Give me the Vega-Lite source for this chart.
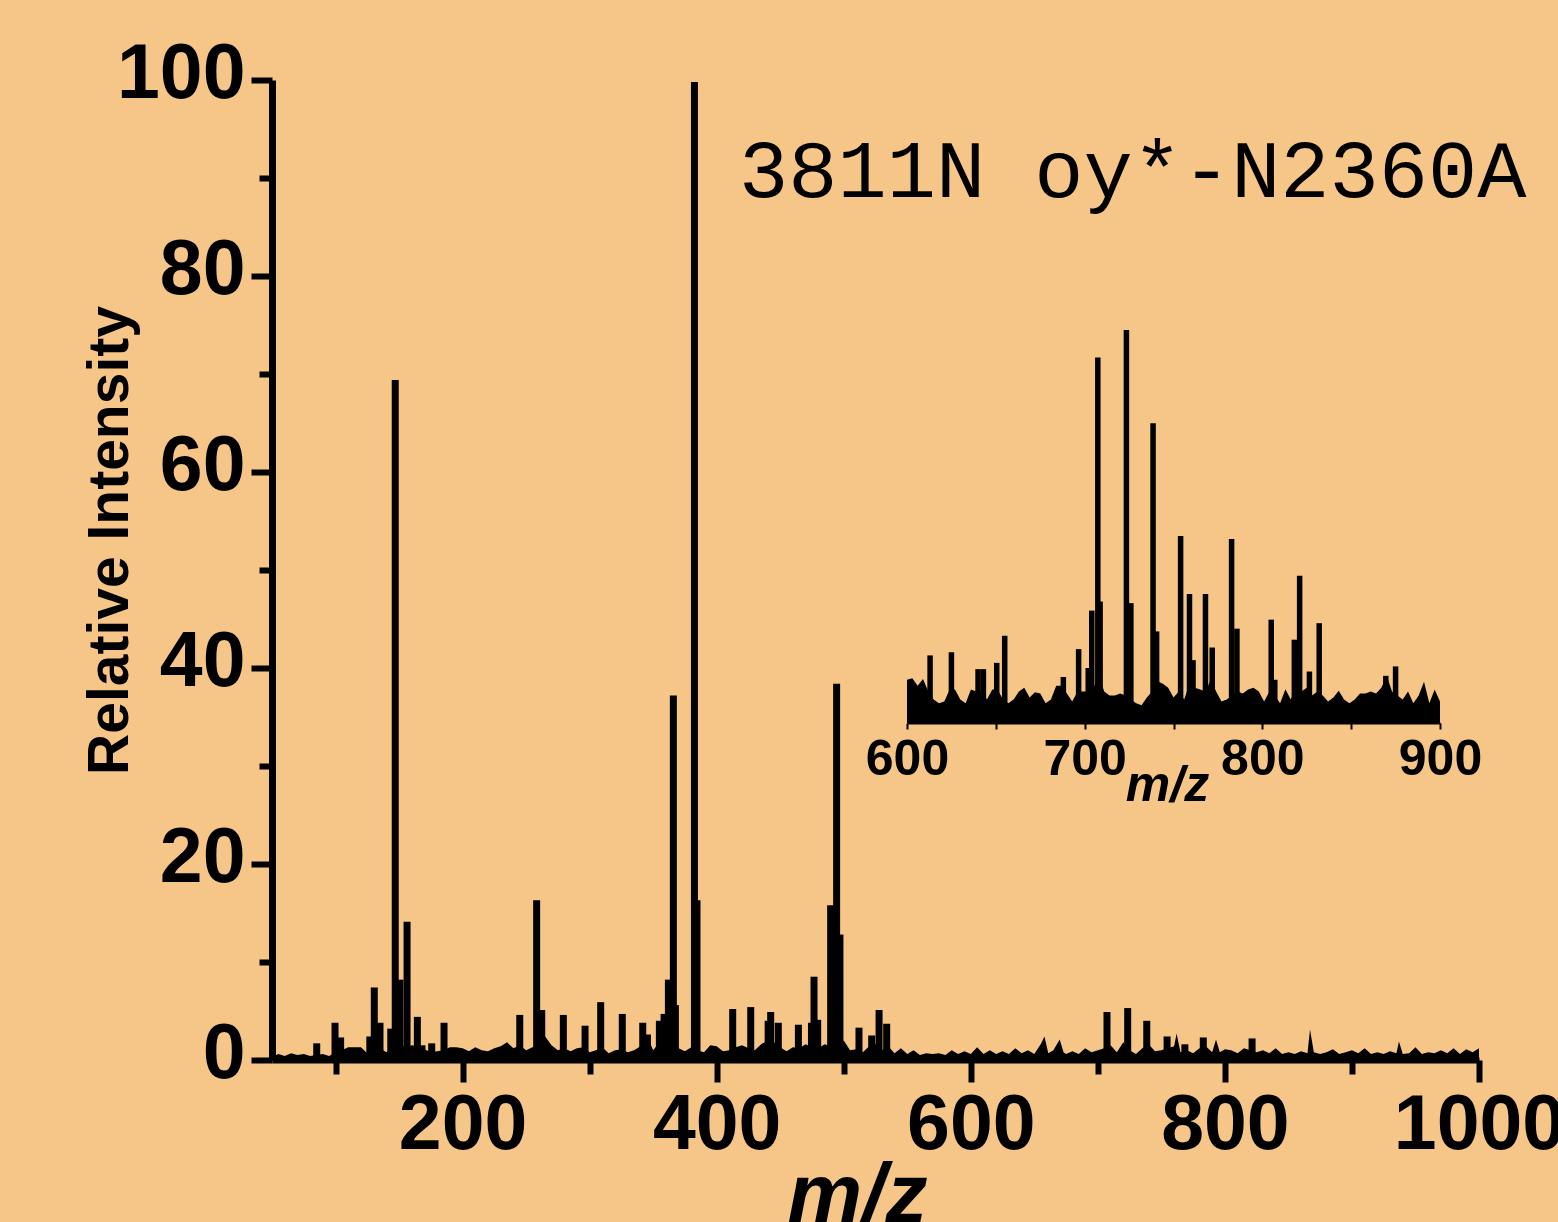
{
  "$schema": "https://vega.github.io/schema/vega-lite/v6.json",
  "width": 1207,
  "height": 980,
  "autosize": {"type": "none"},
  "padding": {"left": 272, "top": 80, "right": 79, "bottom": 162},
  "background": "#F5C687",
  "config": {"view": {"stroke": null}, "axis": {"grid": false}},
  "datasets": {
    "noise": [
      {"mz":50,"i":0.3},{"mz":55,"i":0.6},{"mz":60,"i":0.4},{"mz":65,"i":0.7},{"mz":70,"i":0.5},{"mz":75,"i":0.6},{"mz":80,"i":0.4},{"mz":85,"i":0.5},{"mz":90,"i":0.6},{"mz":95,"i":0.4},
      {"mz":100,"i":0.8},{"mz":105,"i":1.0},{"mz":110,"i":1.3},{"mz":115,"i":1.3},{"mz":120,"i":1.3},{"mz":125,"i":0.7},{"mz":130,"i":1.0},{"mz":135,"i":1.2},{"mz":140,"i":0.8},{"mz":145,"i":1.5},
      {"mz":150,"i":1.8},{"mz":155,"i":1.2},{"mz":160,"i":1.5},{"mz":165,"i":1.4},{"mz":170,"i":1.1},{"mz":175,"i":0.8},{"mz":180,"i":0.9},{"mz":185,"i":1.0},{"mz":190,"i":1.3},{"mz":195,"i":1.3},
      {"mz":200,"i":1.2},{"mz":205,"i":0.9},{"mz":210,"i":1.3},{"mz":215,"i":1.0},{"mz":220,"i":0.9},{"mz":225,"i":1.2},{"mz":230,"i":1.4},{"mz":235,"i":1.8},{"mz":240,"i":1.2},{"mz":245,"i":1.5},
      {"mz":250,"i":1.0},{"mz":255,"i":1.3},{"mz":260,"i":1.6},{"mz":265,"i":2.4},{"mz":270,"i":1.5},{"mz":275,"i":1.0},{"mz":280,"i":1.2},{"mz":285,"i":0.9},{"mz":290,"i":1.2},{"mz":295,"i":1.3},
      {"mz":300,"i":0.8},{"mz":305,"i":1.0},{"mz":310,"i":1.3},{"mz":315,"i":0.7},{"mz":320,"i":1.0},{"mz":325,"i":1.1},{"mz":330,"i":0.8},{"mz":335,"i":1.0},{"mz":340,"i":1.4},{"mz":345,"i":2.5},
      {"mz":350,"i":1.0},{"mz":355,"i":1.8},{"mz":360,"i":1.6},{"mz":365,"i":2.0},{"mz":370,"i":1.2},{"mz":375,"i":0.9},{"mz":380,"i":1.3},{"mz":385,"i":1.0},{"mz":390,"i":0.8},{"mz":395,"i":1.5},
      {"mz":400,"i":1.4},{"mz":405,"i":0.9},{"mz":410,"i":1.0},{"mz":415,"i":1.3},{"mz":420,"i":1.5},{"mz":425,"i":1.2},{"mz":430,"i":1.0},{"mz":435,"i":1.6},{"mz":440,"i":2.0},{"mz":445,"i":1.8},
      {"mz":450,"i":1.3},{"mz":455,"i":0.9},{"mz":460,"i":1.3},{"mz":465,"i":1.2},{"mz":470,"i":1.6},{"mz":475,"i":1.3},{"mz":480,"i":1.2},{"mz":485,"i":1.6},{"mz":490,"i":1.4},{"mz":495,"i":1.3},
      {"mz":500,"i":2.0},{"mz":505,"i":1.0},{"mz":510,"i":1.1},{"mz":515,"i":0.8},{"mz":520,"i":1.4},{"mz":525,"i":1.6},{"mz":530,"i":1.0},{"mz":535,"i":1.4},{"mz":540,"i":0.7},{"mz":545,"i":1.2},
      {"mz":550,"i":0.6},{"mz":555,"i":1.0},{"mz":560,"i":0.5},{"mz":565,"i":0.7},{"mz":570,"i":0.6},{"mz":575,"i":0.7},{"mz":580,"i":0.5},{"mz":585,"i":1.0},{"mz":590,"i":0.6},{"mz":595,"i":0.9},
      {"mz":600,"i":0.6},{"mz":605,"i":1.3},{"mz":610,"i":0.6},{"mz":615,"i":1.0},{"mz":620,"i":0.6},{"mz":625,"i":0.9},{"mz":630,"i":0.6},{"mz":635,"i":1.2},{"mz":640,"i":0.7},{"mz":645,"i":1.0},
      {"mz":650,"i":0.6},{"mz":655,"i":1.6},{"mz":658,"i":2.4},{"mz":661,"i":0.7},{"mz":665,"i":1.0},{"mz":670,"i":2.1},{"mz":673,"i":0.8},{"mz":675,"i":0.6},{"mz":680,"i":0.9},{"mz":685,"i":0.6},
      {"mz":690,"i":1.2},{"mz":695,"i":0.8},{"mz":700,"i":1.0},{"mz":705,"i":1.2},{"mz":710,"i":1.5},{"mz":715,"i":0.8},{"mz":720,"i":1.8},{"mz":725,"i":1.0},{"mz":730,"i":0.6},{"mz":735,"i":1.2},
      {"mz":740,"i":1.6},{"mz":745,"i":0.9},{"mz":750,"i":1.0},{"mz":755,"i":1.2},{"mz":760,"i":1.4},{"mz":762,"i":2.7},{"mz":765,"i":0.8},{"mz":770,"i":1.0},{"mz":775,"i":0.7},{"mz":780,"i":1.2},
      {"mz":785,"i":1.4},{"mz":790,"i":0.8},{"mz":793,"i":2.1},{"mz":796,"i":0.8},{"mz":800,"i":1.1},{"mz":805,"i":1.0},{"mz":810,"i":0.7},{"mz":815,"i":1.2},{"mz":820,"i":1.0},{"mz":825,"i":0.8},
      {"mz":830,"i":1.0},{"mz":835,"i":0.7},{"mz":840,"i":1.2},{"mz":845,"i":0.6},{"mz":850,"i":0.8},{"mz":855,"i":0.6},{"mz":860,"i":0.9},{"mz":865,"i":0.7},{"mz":867,"i":3.1},{"mz":870,"i":0.8},
      {"mz":875,"i":0.6},{"mz":880,"i":0.8},{"mz":885,"i":1.1},{"mz":890,"i":0.6},{"mz":895,"i":0.8},{"mz":900,"i":1.0},{"mz":905,"i":0.7},{"mz":910,"i":1.2},{"mz":915,"i":0.6},{"mz":920,"i":0.8},
      {"mz":925,"i":0.6},{"mz":930,"i":0.9},{"mz":935,"i":0.7},{"mz":937,"i":1.9},{"mz":940,"i":0.6},{"mz":945,"i":0.7},{"mz":950,"i":1.3},{"mz":955,"i":0.6},{"mz":960,"i":0.8},{"mz":965,"i":0.7},
      {"mz":970,"i":1.0},{"mz":975,"i":0.7},{"mz":980,"i":1.2},{"mz":985,"i":0.6},{"mz":990,"i":1.1},{"mz":995,"i":0.8},{"mz":1000,"i":1.2}
    ],
    "peaks": [
      {"mz":85.2,"i":1.7},{"mz":99.6,"i":3.8},{"mz":104,"i":2.3},{"mz":127,"i":2.4},{"mz":130.5,"i":7.4},{"mz":135,"i":3.8},{"mz":143.5,"i":3.2},
      {"mz":147,"i":69.4},{"mz":150.7,"i":8.2},{"mz":156.3,"i":14.1},{"mz":164.4,"i":4.4},{"mz":168,"i":1.5},{"mz":175.7,"i":1.7},{"mz":185.4,"i":3.8},
      {"mz":245,"i":4.6},{"mz":258.3,"i":16.3},{"mz":262.3,"i":5.1},{"mz":279.3,"i":4.6},{"mz":296.4,"i":3.5},{"mz":308.7,"i":5.9},{"mz":325.7,"i":4.7},
      {"mz":341.8,"i":3.8},{"mz":345.5,"i":2.6},{"mz":354.9,"i":4.0},{"mz":358.6,"i":4.7},{"mz":362,"i":8.2},{"mz":365.9,"i":37.2},{"mz":367.5,"i":5.6},
      {"mz":382.5,"i":99.8},{"mz":384.5,"i":16.3},{"mz":396.9,"i":1.4},{"mz":412.6,"i":5.2},{"mz":426.8,"i":5.4},{"mz":440.5,"i":4.0},{"mz":442.5,"i":4.9},
      {"mz":448.5,"i":3.8},{"mz":464.3,"i":3.6},{"mz":474.6,"i":3.8},{"mz":476.6,"i":8.5},{"mz":479.5,"i":4.1},{"mz":489.7,"i":15.8},{"mz":494.4,"i":38.4},
      {"mz":497,"i":12.8},{"mz":512,"i":3.3},{"mz":522,"i":2.5},{"mz":527.8,"i":5.1},{"mz":533.8,"i":3.7},
      {"mz":707.2,"i":4.9},{"mz":723.5,"i":5.3},{"mz":738.5,"i":4.0},{"mz":754.5,"i":2.4},{"mz":768.5,"i":1.6},{"mz":783,"i":2.3},{"mz":821.4,"i":2.2}
    ],
    "insetNoise": [
      {"mz":600,"i":11},{"mz":603,"i":11.4},{"mz":606,"i":9.5},{"mz":609,"i":11.2},{"mz":612,"i":8},{"mz":615,"i":6},{"mz":618,"i":5},{"mz":621,"i":5.5},{"mz":624,"i":8.5},{"mz":627,"i":8.5},
      {"mz":630,"i":6},{"mz":633,"i":5},{"mz":636,"i":8.5},{"mz":639,"i":8},{"mz":642,"i":8},{"mz":645,"i":6},{"mz":648,"i":8.5},{"mz":651,"i":8.5},{"mz":654,"i":6},{"mz":657,"i":5},
      {"mz":660,"i":6},{"mz":663,"i":8},{"mz":666,"i":9},{"mz":669,"i":6.5},{"mz":672,"i":7.8},{"mz":675,"i":7.5},{"mz":678,"i":5},{"mz":681,"i":6},{"mz":684,"i":9.5},{"mz":687,"i":9.5},
      {"mz":690,"i":7.5},{"mz":693,"i":5.5},{"mz":696,"i":8},{"mz":699,"i":8},{"mz":702,"i":8},{"mz":705,"i":9},{"mz":708,"i":12},{"mz":711,"i":8},{"mz":714,"i":7},{"mz":717,"i":7},
      {"mz":720,"i":7.5},{"mz":723,"i":7},{"mz":726,"i":6},{"mz":729,"i":5},{"mz":732,"i":4.5},{"mz":735,"i":6.5},{"mz":738,"i":8},{"mz":741,"i":10.6},{"mz":744,"i":10},{"mz":747,"i":9},
      {"mz":750,"i":6.5},{"mz":753,"i":8},{"mz":756,"i":6},{"mz":759,"i":10},{"mz":762,"i":9},{"mz":765,"i":8.5},{"mz":768,"i":8},{"mz":771,"i":11},{"mz":774,"i":8},{"mz":777,"i":5.5},
      {"mz":780,"i":6},{"mz":783,"i":7},{"mz":786,"i":8},{"mz":789,"i":7.5},{"mz":792,"i":8.5},{"mz":795,"i":9},{"mz":798,"i":8},{"mz":801,"i":5.5},{"mz":804,"i":8},{"mz":807,"i":7},
      {"mz":810,"i":5},{"mz":813,"i":8.6},{"mz":816,"i":6},{"mz":819,"i":9},{"mz":822,"i":8},{"mz":825,"i":9},{"mz":828,"i":7},{"mz":831,"i":8},{"mz":834,"i":7},{"mz":837,"i":5.5},
      {"mz":840,"i":6.5},{"mz":843,"i":8.2},{"mz":846,"i":6},{"mz":849,"i":5},{"mz":852,"i":6},{"mz":855,"i":7.5},{"mz":858,"i":7.5},{"mz":861,"i":8},{"mz":864,"i":7.5},{"mz":867,"i":9},
      {"mz":870,"i":12},{"mz":873,"i":8},{"mz":876,"i":7},{"mz":879,"i":6},{"mz":882,"i":8},{"mz":885,"i":5},{"mz":888,"i":7},{"mz":891,"i":10.5},{"mz":894,"i":5},{"mz":897,"i":8.5},{"mz":900,"i":5.5}
    ],
    "insetPeaks": [
      {"mz":613,"i":17.2},{"mz":625,"i":18},{"mz":640,"i":13.7},{"mz":643,"i":13.7},{"mz":650.5,"i":15.3},{"mz":655,"i":22.2},{"mz":688,"i":11.7},
      {"mz":696.6,"i":18.8},{"mz":702,"i":14},{"mz":704,"i":28.6},{"mz":707.4,"i":93},{"mz":708.7,"i":30.9},{"mz":723.5,"i":100},{"mz":726,"i":30.5},
      {"mz":738.5,"i":76.3},{"mz":740.5,"i":23.3},{"mz":754,"i":47.6},{"mz":759,"i":32.8},{"mz":761,"i":16},{"mz":768,"i":32.8},{"mz":771.8,"i":19.2},
      {"mz":782.7,"i":46.8},{"mz":785.7,"i":24},{"mz":805,"i":26.3},{"mz":807,"i":11},{"mz":818,"i":21.2},{"mz":821,"i":37.5},{"mz":826.5,"i":13.1},
      {"mz":832,"i":25.4},{"mz":869.5,"i":12},{"mz":875,"i":14.4}
    ]
  },
  "layer": [
    {
      "layer": [
        {
          "data": {"name": "noise"},
          "mark": {"type": "area", "color": "black", "interpolate": "linear"},
          "encoding": {
            "x": {
              "field": "mz", "type": "quantitative",
              "scale": {"domain": [50, 1000], "nice": false, "zero": false},
              "axis": {
                "title": "m/z",
                "values": [100, 200, 300, 400, 500, 600, 700, 800, 900, 1000],
                "format": "d",
                "labelExpr": "datum.value % 200 === 0 ? datum.label : ''",
                "domainColor": "black", "domainWidth": 6,
                "tickColor": "black", "tickWidth": 6,
                "tickSize": {"condition": {"test": "datum.value % 200 === 0", "value": 22}, "value": 14},
                "labelFont": "Liberation Sans", "labelFontWeight": "bold", "labelFontSize": 77, "labelColor": "black",
                "labelPadding": 5, "labelFlush": false, "labelOverlap": false,
                "titleFont": "Liberation Sans", "titleFontWeight": "bold", "titleFontStyle": "italic", "titleFontSize": 84,
                "titleColor": "black", "titleX": 585, "titleY": 161, "titleBaseline": "alphabetic", "titleAlign": "center"
              }
            },
            "y": {
              "field": "i", "type": "quantitative",
              "scale": {"domain": [0, 100], "nice": false},
              "axis": {
                "title": "Relative Intensity",
                "values": [0, 10, 20, 30, 40, 50, 60, 70, 80, 90, 100],
                "labelExpr": "datum.value % 20 === 0 ? datum.label : ''",
                "domainColor": "black", "domainWidth": 7,
                "tickColor": "black", "tickWidth": 6,
                "tickSize": {"condition": {"test": "datum.value % 20 === 0", "value": 21}, "value": 13},
                "labelFont": "Liberation Sans", "labelFontWeight": "bold", "labelFontSize": 77, "labelColor": "black",
                "labelPadding": 6, "labelOffset": -6, "labelFlush": false, "labelOverlap": false,
                "titleFont": "Liberation Sans", "titleFontWeight": "bold", "titleFontSize": 57, "titleColor": "black",
                "titleX": -145, "titleY": 460, "titleAngle": 270, "titleBaseline": "alphabetic", "titleAlign": "center"
              }
            }
          }
        },
        {
          "data": {"name": "peaks"},
          "mark": {"type": "rule", "color": "black", "strokeWidth": 7},
          "encoding": {
            "x": {"field": "mz", "type": "quantitative"},
            "y": {"field": "i", "type": "quantitative"},
            "y2": {"datum": 0}
          }
        },
        {
          "data": {"values": [{"label": "3811N oy*-N2360A"}]},
          "mark": {"type": "text", "font": "Liberation Mono", "fontSize": 82, "align": "left", "baseline": "alphabetic", "color": "black"},
          "encoding": {
            "text": {"field": "label"},
            "x": {"datum": 417.6, "type": "quantitative"},
            "y": {"datum": 88.1, "type": "quantitative"}
          }
        }
      ]
    },
    {
      "layer": [
        {
          "data": {"name": "insetNoise"},
          "mark": {"type": "area", "color": "black", "interpolate": "linear"},
          "encoding": {
            "x": {
              "field": "mz", "type": "quantitative",
              "scale": {"domain": [600, 900], "range": [635, 1168], "nice": false, "zero": false},
              "axis": {
                "orient": "bottom", "offset": -337,
                "title": "m/z",
                "values": [600, 650, 700, 750, 800, 850, 900],
                "format": "d",
                "labelExpr": "datum.value % 100 === 0 ? datum.label : ''",
                "domainColor": "black", "domainWidth": 2,
                "tickColor": "black", "tickWidth": 2, "tickSize": 6,
                "labelFont": "Liberation Sans", "labelFontWeight": "bold", "labelFontSize": 50, "labelColor": "black",
                "labelPadding": 5, "labelFlush": false, "labelOverlap": false,
                "titleFont": "Liberation Sans", "titleFontWeight": "bold", "titleFontStyle": "italic", "titleFontSize": 50,
                "titleColor": "black", "titleX": 895, "titleY": 77, "titleBaseline": "alphabetic", "titleAlign": "center"
              }
            },
            "y": {
              "field": "i", "type": "quantitative",
              "scale": {"domain": [0, 100], "range": [643, 250], "nice": false},
              "axis": null
            }
          }
        },
        {
          "data": {"name": "insetPeaks"},
          "mark": {"type": "rule", "color": "black", "strokeWidth": 5.5},
          "encoding": {
            "x": {"field": "mz", "type": "quantitative"},
            "y": {"field": "i", "type": "quantitative"},
            "y2": {"datum": 0}
          }
        }
      ]
    }
  ],
  "resolve": {
    "scale": {"x": "independent", "y": "independent"},
    "axis": {"x": "independent", "y": "independent"}
  }
}
